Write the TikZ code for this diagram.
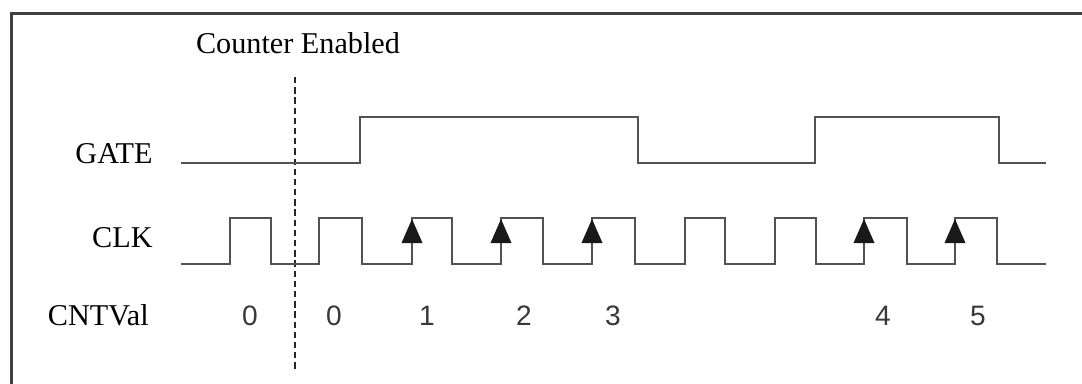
\documentclass[tikz,border=0pt]{standalone}
\usepackage{fontspec}
\setmainfont{Liberation Serif}
\newfontfamily\digitfont{Liberation Sans}
\usepackage{tikz}

\begin{document}
\begin{tikzpicture}[x=0.02cm, y=-0.02cm,
		every node/.style={inner sep=0pt, font=\fontsize{17.2}{20}\selectfont},
		wave/.style={draw=black!68, line width=1.1pt, line join=miter},
		cnt/.style={font=\digitfont\fontsize{16}{18}\selectfont, text=black!78, anchor=base},
		edgetip/.style={fill=black!90, draw=none}]
				\useasboundingbox (0,0) rectangle (1082,383);
				\clip (0,0) rectangle (1082,383);
				\draw[line width=1.7pt, draw=black!75] (11.5,13.5) rectangle (1100,400);
				
				\node[anchor=base] (enabled) at (298,53){Counter Enabled};
				\coordinate (entop) at (295,77);
				\coordinate (enbot) at (295,372);
				
				\node[anchor=base east] (gate) at (153,163){GATE};
				\node[anchor=base east] (clk) at (153,247){CLK};
				\node[anchor=base east] (cntval) at (149,325){CNTVal};
				
				\node[cnt] (c0a) at (250,325){0};
				\node[cnt] (c0b) at (334,325){0};
				\node[cnt] (c1) at (427,325){1};
				\node[cnt] (c2) at (524,325){2};
				\node[cnt] (c3) at (613,325){3};
				\node[cnt] (c4) at (883,325){4};
				\node[cnt] (c5) at (978,325){5};
				
				\draw[line width=1.2pt, draw=black!85, dash pattern=on 3.6pt off 2.2pt] (entop) -- (enbot);
				
				\draw[wave] (181,163) -- (360,163) -- (360,117) -- (638,117) -- (638,163)
					-- (815,163) -- (815,117) -- (999,117) -- (999,163) -- (1046,163);
				
				\draw[wave] (181,264) -- (230,264) -- (230,218) -- (271,218) -- (271,264)
					-- (319,264) -- (319,218) -- (362,218) -- (362,264)
					-- (412,264) -- (412,218) -- (452,218) -- (452,264)
					-- (501,264) -- (501,218) -- (543,218) -- (543,264)
					-- (592,264) -- (592,218) -- (635,218) -- (635,264)
					-- (685,264) -- (685,218) -- (725,218) -- (725,264)
					-- (775,264) -- (775,218) -- (816,218) -- (816,264)
					-- (864,264) -- (864,218) -- (907,218) -- (907,264)
					-- (955,264) -- (955,218) -- (997,218) -- (997,264) -- (1046,264);
				
				\fill[edgetip] (412,219) -- ++(-10.5,24) -- ++(21,0) -- cycle;
				\fill[edgetip] (501,219) -- ++(-10.5,24) -- ++(21,0) -- cycle;
				\fill[edgetip] (592,219) -- ++(-10.5,24) -- ++(21,0) -- cycle;
				\fill[edgetip] (864,219) -- ++(-10.5,24) -- ++(21,0) -- cycle;
				\fill[edgetip] (955,219) -- ++(-10.5,24) -- ++(21,0) -- cycle;
				\end{tikzpicture}
\end{document}
